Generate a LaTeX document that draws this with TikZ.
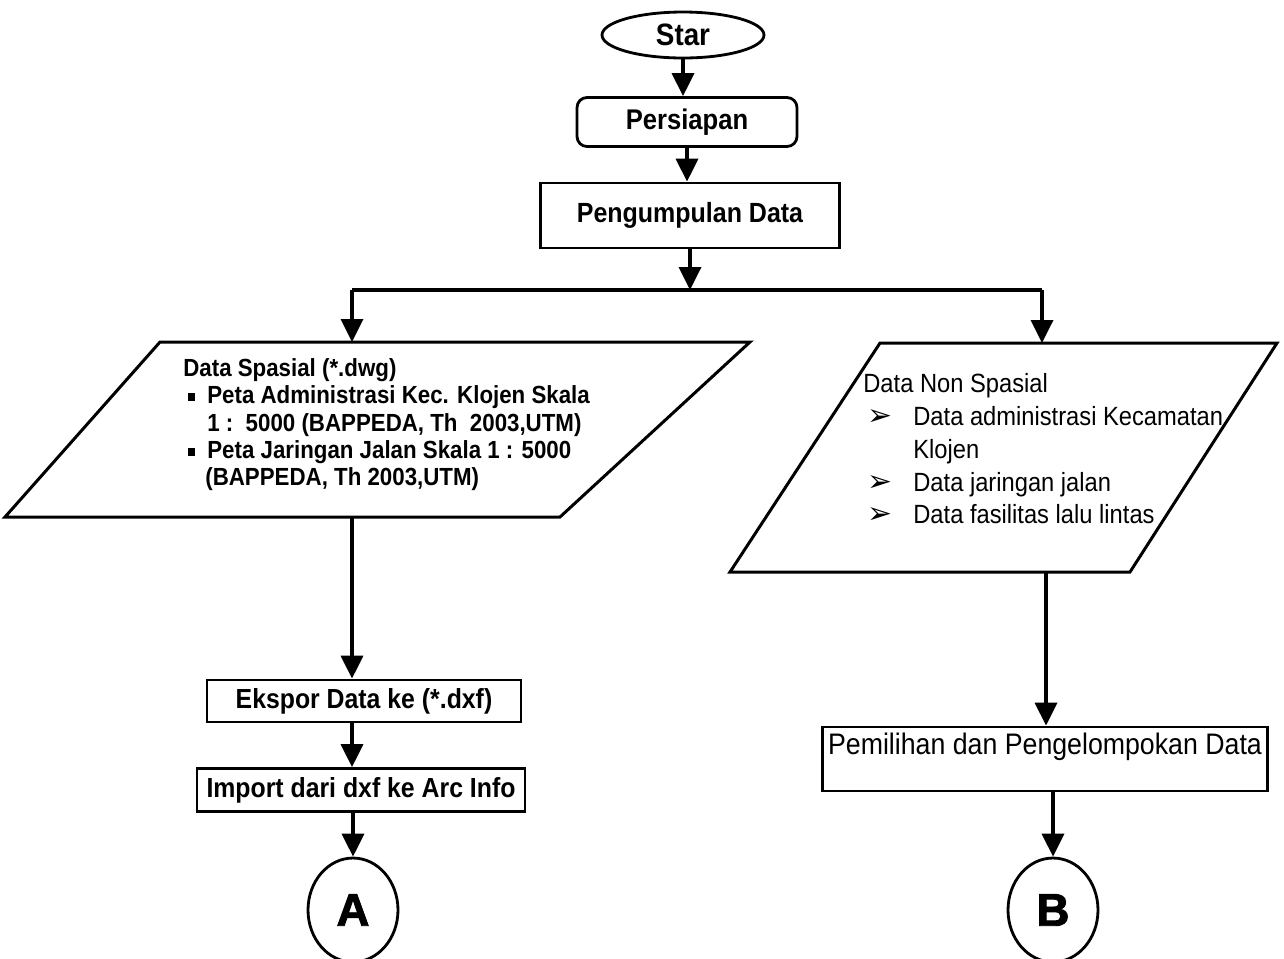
\documentclass[tikz,border=0pt]{standalone}
\usepackage{fontspec}
\setmainfont{Liberation Sans}
\newfontfamily\nsans[FakeStretch=0.9]{Liberation Sans}
\newfontfamily\heavyfont[FakeBold=2]{Liberation Sans}
\newfontfamily\dvs{DejaVu Sans}
\usetikzlibrary{shapes.geometric,arrows.meta}
\newcommand{\sqbul}{\makebox[0.48cm][l]{\hspace{0.1cm}\rule[0.06cm]{0.13cm}{0.15cm}}}
\newcommand{\arrbul}{\makebox[1cm][l]{\hspace{0.08cm}{\dvs\fontsize{17}{17}\selectfont ➢}}}
\begin{document}
\begin{tikzpicture}[x=0.02cm,y=-0.02cm,
  conn/.style={line width=2pt,-{Triangle[width=0.44cm,length=0.46cm]}},
  plainline/.style={line width=2pt},
  boxst/.style={draw,line width=1.6pt,inner sep=0pt},
  shapeline/.style={draw,line width=1.7pt,line join=miter},
  connector/.style={ellipse,boxst,minimum width=1.8cm,minimum height=2.08cm,
    font={\heavyfont\bfseries\fontsize{26}{28}\selectfont}}]
\useasboundingbox (0,0) rectangle (1284,958);

% top chain
\node[ellipse,boxst,minimum width=3.24cm,minimum height=0.92cm,
  font={\nsans\bfseries\fontsize{17.6}{20}\selectfont}] (star) at (683,35) {Star};
\node[boxst,rounded corners=0.2cm,minimum width=4.4cm,minimum height=0.98cm,
  font={\nsans\bfseries\fontsize{16.2}{19}\selectfont}] (prep) at (687,122) {Persiapan};
\node[boxst,minimum width=5.98cm,minimum height=1.3cm,
  font={\nsans\bfseries\fontsize{15.8}{19}\selectfont}] (coll) at (690,215.5) {Pengumpulan Data};

\draw[conn] (star.south) -- (star.south |- prep.north);
\draw[conn] (prep.south) -- (prep.south |- coll.north);

\coordinate (split) at (690,290);
\coordinate (splitL) at (352,290);
\coordinate (splitR) at (1042,290);
\draw[conn] (coll.south) -- (split);
\draw[plainline] (splitL) -- (splitR);

% left parallelogram
\coordinate (ps1) at (160,342);
\coordinate (ps2) at (750,342);
\coordinate (ps3) at (560,517);
\coordinate (ps4) at (5,517);
\coordinate (psT) at (352,342);
\coordinate (psB) at (352,517);
\draw[shapeline] (ps1) -- (ps2) -- (ps3) -- (ps4) -- cycle;
\node[anchor=north west,inner sep=0pt,align=left,
  font={\nsans\bfseries\fontsize{14.1}{15.6}\selectfont}] (spatxt) at (183,358)
  {Data Spasial (*.dwg)\\
   \sqbul Peta Administrasi Kec. Klojen Skala\\
   \hspace*{0.48cm}1 :\ \ 5000 (BAPPEDA, Th\ \ 2003,UTM)\\
   \sqbul Peta Jaringan Jalan Skala 1 : 5000\\
   \hspace*{0.44cm}(BAPPEDA, Th 2003,UTM)};
\draw[conn] (splitL) -- (psT);

% right parallelogram
\coordinate (pn1) at (880,343);
\coordinate (pn2) at (1277,343);
\coordinate (pn3) at (1130,572);
\coordinate (pn4) at (730,572);
\coordinate (pnT) at (1042,343);
\coordinate (pnB) at (1046,572);
\draw[shapeline] (pn1) -- (pn2) -- (pn3) -- (pn4) -- cycle;
\node[anchor=north west,inner sep=0pt,align=left,
  font={\nsans\fontsize{15}{18.7}\selectfont}] (nstxt) at (863,373)
  {Data Non Spasial\\
   \arrbul Data administrasi Kecamatan\\
   \hspace*{1cm}Klojen\\
   \arrbul Data jaringan jalan\\
   \arrbul Data fasilitas lalu lintas};
\draw[conn] (splitR) -- (pnT);

% left column
\node[boxst,minimum width=6.28cm,minimum height=0.84cm,
  font={\nsans\bfseries\fontsize{15.7}{18}\selectfont}] (eks) at (364,701) {Ekspor Data ke (*.dxf)};
\node[boxst,minimum width=6.56cm,minimum height=0.86cm,
  font={\nsans\bfseries\fontsize{15.7}{18}\selectfont}] (imp) at (361,790) {Import dari dxf ke Arc Info};
\node[connector] (ca) at (353,910) {A};
\draw[conn] (psB) -- (psB |- eks.north);
\draw[conn] (eks.south -| psB) -- (imp.north -| psB);
\draw[conn] (imp.south -| ca.north) -- (ca.north);

% right column
\node[boxst,minimum width=8.9cm,text height=0.54cm,text depth=0.74cm,
  font={\nsans\fontsize{16.9}{19}\selectfont}] (pem) at (1045,759) {Pemilihan dan Pengelompokan Data};
\node[connector] (cb) at (1053,910) {B};
\draw[conn] (pnB) -- (pnB |- pem.north);
\draw[conn] (pem.south -| cb.north) -- (cb.north);
\end{tikzpicture}
\end{document}
